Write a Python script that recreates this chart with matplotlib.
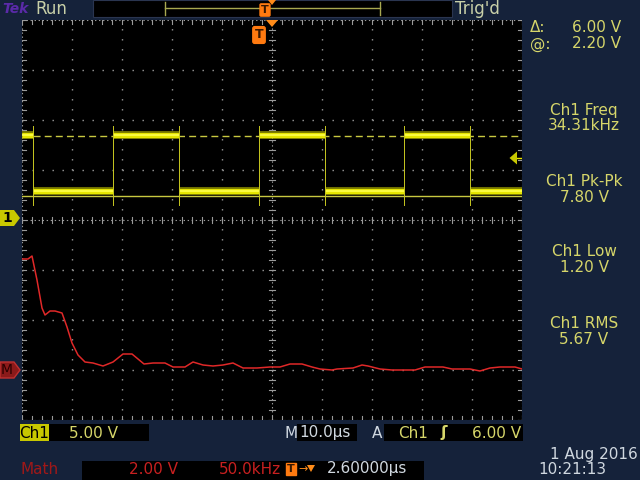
import matplotlib
matplotlib.use("Agg")
import matplotlib.pyplot as plt
from matplotlib.patches import Rectangle, Polygon

# Ch1 square wave
edge_times_us = [2.2, 18.2, 31.4, 47.4, 60.6, 76.4, 89.6]
segment_levels_v = [8.3, 2.7, 8.3, 2.7, 8.3, 2.7, 8.3, 2.7]
cursor_levels_v = [2.2, 8.2]
trigger_level_v = 6.0

# Math (FFT) trace
fft_freq_khz = [0, 6, 10, 15, 20, 23, 28, 33, 40, 45, 50, 56, 63, 71, 81, 91, 101, 110,
                122, 131, 143, 151, 163, 171, 181, 191, 201, 211, 221, 235, 248, 258,
                268, 280, 290, 298, 310, 315, 331, 340, 346, 358, 370, 393, 403, 421,
                430, 448, 458, 468, 478, 493, 500]
fft_mag_v = [4.44, 4.44, 4.56, 3.60, 2.48, 2.20, 2.36, 2.36, 2.28, 1.72, 1.08, 0.60, 0.32,
             0.28, 0.16, 0.32, 0.64, 0.64, 0.24, 0.28, 0.28, 0.12, 0.12, 0.32, 0.20, 0.16,
             0.20, 0.28, 0.08, 0.08, 0.12, 0.12, 0.24, 0.24, 0.12, 0.04, 0.00, 0.04,
             0.08, 0.20, 0.16, 0.04, 0.00, 0.00, 0.12, 0.12, 0.04, 0.04, -0.04, 0.08,
             0.12, 0.12, 0.04]

measure_names = ["Ch1 Freq", "Ch1 Pk-Pk", "Ch1 Low", "Ch1 RMS"]
measure_values = ["34.31kHz", "7.80 V", "1.20 V", "5.67 V"]

# scope settings
ch1_volts_div = 5.0
ch1_offset_div = 0.04
math_volts_div = 2.0
math_offset_div = -3.0
time_div_us = 10.0
freq_div_khz = 50.0

W, H = 640, 480
NAVY = "#15223a"
GRID = "#9a9a9a"
YEL = "#e6e600"
TXT = "#d6d66a"
PALE = "#c8d0a8"
FS = 11
plt.rcParams["lines.scale_dashes"] = False
plt.rcParams["font.family"] = ["DejaVu Sans"]


def px(x, y):
    return x / W, 1 - y / H


def ch1_y(v):
    return ch1_offset_div + v / ch1_volts_div


def box(x0, y0, x1, y1, color="black", ec="none"):
    fig.add_artist(Rectangle(px(x0, y1), (x1 - x0) / W, (y1 - y0) / H,
                             transform=fig.transFigure, fc=color, ec=ec, lw=0.8))


def txt(x, y, s, color=TXT, size=FS, ha="left", **kw):
    fig.text(*px(x, y), s, color=color, fontsize=size, ha=ha, va="center", **kw)


fig = plt.figure(figsize=(6.4, 4.8), dpi=100, facecolor=NAVY)
ax = fig.add_axes([22 / W, 60 / H, 500 / W, 400 / H], facecolor="black")
ax.set_xlim(0, 10)
ax.set_ylim(-4, 4)
ax.set_xticks([])
ax.set_yticks([])
for s in ax.spines.values():
    s.set_visible(False)

# graticule
for i in range(1, 10):
    if i != 5:
        ax.plot([i, i], [-4, 4], color=GRID, lw=1, ls=(0, (1, 6.2)), zorder=1)
for j in range(-3, 4):
    if j != 0:
        ax.plot([0, 10], [j, j], color=GRID, lw=1, ls=(0, (1, 6.2)), zorder=1)
ax.plot([5, 5], [-4, 4], color=GRID, lw=0.8, ls=(0, (1, 1.9)), zorder=1)
ax.plot([0, 10], [0, 0], color=GRID, lw=0.8, ls=(0, (1, 1.9)), zorder=1)
for k in range(51):
    t = k * 0.2
    ax.plot([t, t], [-0.06, 0.06], color=GRID, lw=0.8, zorder=1)
    ax.plot([t, t], [3.92, 4], color=GRID, lw=0.8, zorder=1)
    ax.plot([t, t], [-4, -3.92], color=GRID, lw=0.8, zorder=1)
for k in range(41):
    v = -4 + k * 0.2
    ax.plot([4.94, 5.06], [v, v], color=GRID, lw=0.8, zorder=1)
    ax.plot([0, 0.08], [v, v], color=GRID, lw=0.8, zorder=1)
    ax.plot([9.92, 10], [v, v], color=GRID, lw=0.8, zorder=1)
for y in (-4, 4):
    ax.plot([0, 10], [y, y], color=GRID, lw=0.8, ls=(0, (1, 1.9)), zorder=1)
for x in (0, 10):
    ax.plot([x, x], [-4, 4], color=GRID, lw=0.8, ls=(0, (1, 1.9)), zorder=1)

# cursors
ax.plot([0, 10], [ch1_y(cursor_levels_v[0])] * 2, color="#c8c840", lw=1, zorder=2)
ax.plot([0, 10], [ch1_y(cursor_levels_v[1])] * 2, color="#c8c840", lw=1,
        ls=(0, (5, 3)), zorder=2)

# Ch1 square wave
bounds = [0] + [t / time_div_us for t in edge_times_us] + [10]
for i, lev in enumerate(segment_levels_v):
    y = ch1_y(lev)
    ax.plot([bounds[i], bounds[i + 1]], [y, y], color="#b8b800", lw=5.8,
            alpha=0.6, solid_capstyle="butt", zorder=3)
    ax.plot([bounds[i], bounds[i + 1]], [y, y], color=YEL, lw=3.8,
            solid_capstyle="butt", zorder=3)
    ax.plot([bounds[i], bounds[i + 1]], [y, y], color="#ffff50", lw=1.2,
            solid_capstyle="butt", zorder=3)
for t in edge_times_us:
    ax.plot([t / time_div_us] * 2, [ch1_y(1.3), ch1_y(9.2)], color="#c8c820",
            lw=0.7, zorder=3)

# Math trace
ax.plot([f / freq_div_khz for f in fft_freq_khz],
        [math_offset_div + m / math_volts_div for m in fft_mag_v],
        color="#e02828", lw=1.1, zorder=4)

# trigger level arrow on the right
ty = ch1_y(trigger_level_v)
ax.plot([9.86, 10], [ty, ty], color=YEL, lw=1, zorder=5)
ax.add_patch(Polygon([[9.75, ty], [9.9, ty + 0.13], [9.9, ty - 0.13]],
                     closed=True, fc="#c8c800", ec="none", zorder=5))
# horizontal position and trigger markers at top
ax.add_patch(Polygon([[4.88, 4.0], [5.12, 4.0], [5.0, 3.86]], closed=True,
                     fc="#ff8c1a", ec="none", zorder=5, clip_on=False))
ax.text(edge_times_us[3] / time_div_us, 3.7, "T", color="#3a1800", fontsize=9,
        fontweight="bold", ha="center", va="center", zorder=6,
        bbox=dict(boxstyle="round,pad=0.15", fc="#ff7a10", ec="#ff7a10"))

# left channel markers
fig.add_artist(Polygon([px(0, 210), px(14, 210), px(20, 218), px(14, 226), px(0, 226)],
                       closed=True, transform=fig.transFigure, fc="#c8c800", ec="none"))
txt(7, 218, "1", color="black", size=10, ha="center", fontweight="bold")
fig.add_artist(Polygon([px(0, 362), px(14, 362), px(20, 370), px(14, 378), px(0, 378)],
                       closed=True, transform=fig.transFigure, fc="#8b1a1a", ec="#c03030"))
txt(7, 370, "M", color="#2a0000", size=10, ha="center")

# top bar
txt(2, 9, "Tek", color="#5a2aa8", size=10, fontweight="bold", fontstyle="italic")
txt(35, 9, "Run", color=PALE, size=12)
box(93, 0, 452, 17, ec="#2a3550")
fig.add_artist(plt.Line2D([px(165, 8)[0], px(380, 8)[0]], [px(0, 8)[1]] * 2,
                          transform=fig.transFigure, color="#a8a850", lw=1))
for bx in (165, 380):
    fig.add_artist(plt.Line2D([px(bx, 2)[0]] * 2, [px(0, 2)[1], px(0, 15)[1]],
                              transform=fig.transFigure, color="#a8a850", lw=1))
txt(265, 10, "T", color="#3a1800", size=8, ha="center", fontweight="bold",
    bbox=dict(boxstyle="round,pad=0.1", fc="#ff7a10", ec="#ff7a10"))
fig.add_artist(Polygon([px(268, 0), px(276, 0), px(272, 5)], closed=True,
                       transform=fig.transFigure, fc="#ff8c1a", ec="none"))
txt(455, 9, "Trig'd", color=PALE, size=12)

# right panel
txt(530, 28, "\u0394:")
txt(621, 28, "6.00 V", ha="right")
txt(530, 44, "@:")
txt(621, 44, "2.20 V", ha="right")
for i, (name, val) in enumerate(zip(measure_names, measure_values)):
    y0 = 110 + i * 71
    txt(584, y0, name, ha="center")
    txt(584, y0 + 16, val, ha="center")
txt(638, 455, "1 Aug 2016", color="#d0d8e0", ha="right")
txt(538, 470, "10:21:13", color="#d0d8e0")

# bottom bar
box(20, 424, 49, 441, color="#c8c800")
txt(34, 433, "Ch1", color="black", ha="center")
box(49, 424, 149, 441)
txt(69, 433, "5.00 V")
txt(284, 433, "M", color="#d0d8e0")
box(297, 424, 357, 441)
txt(299, 433, "10.0\u00b5s", color="#d0d8e0")
txt(372, 433, "A", color="#d0d8e0")
box(384, 424, 523, 441)
txt(398, 433, "Ch1")
txt(440, 433, "\u0283", fontweight="bold")
txt(521, 433, "6.00 V", ha="right")

txt(20, 469, "Math", color="#a01818")
box(82, 461, 424, 480)
txt(178, 469, "2.00 V", color="#c82020", ha="right")
txt(281, 469, "50.0kHz", color="#c82020", ha="right")
txt(291, 469, "T", color="#3a1800", size=8, ha="center", fontweight="bold",
    bbox=dict(boxstyle="square,pad=0.1", fc="#ff7a10", ec="#ff7a10"))
txt(298, 469, "\u2192", color="#ff8c1a", size=8)
fig.add_artist(Polygon([px(307, 465), px(315, 465), px(311, 472)], closed=True,
                       transform=fig.transFigure, fc="#ff8c1a", ec="none"))
txt(327, 469, "2.60000\u00b5s", color="#d0d8e0")

fig.savefig("out.png", dpi=100, facecolor=NAVY)
